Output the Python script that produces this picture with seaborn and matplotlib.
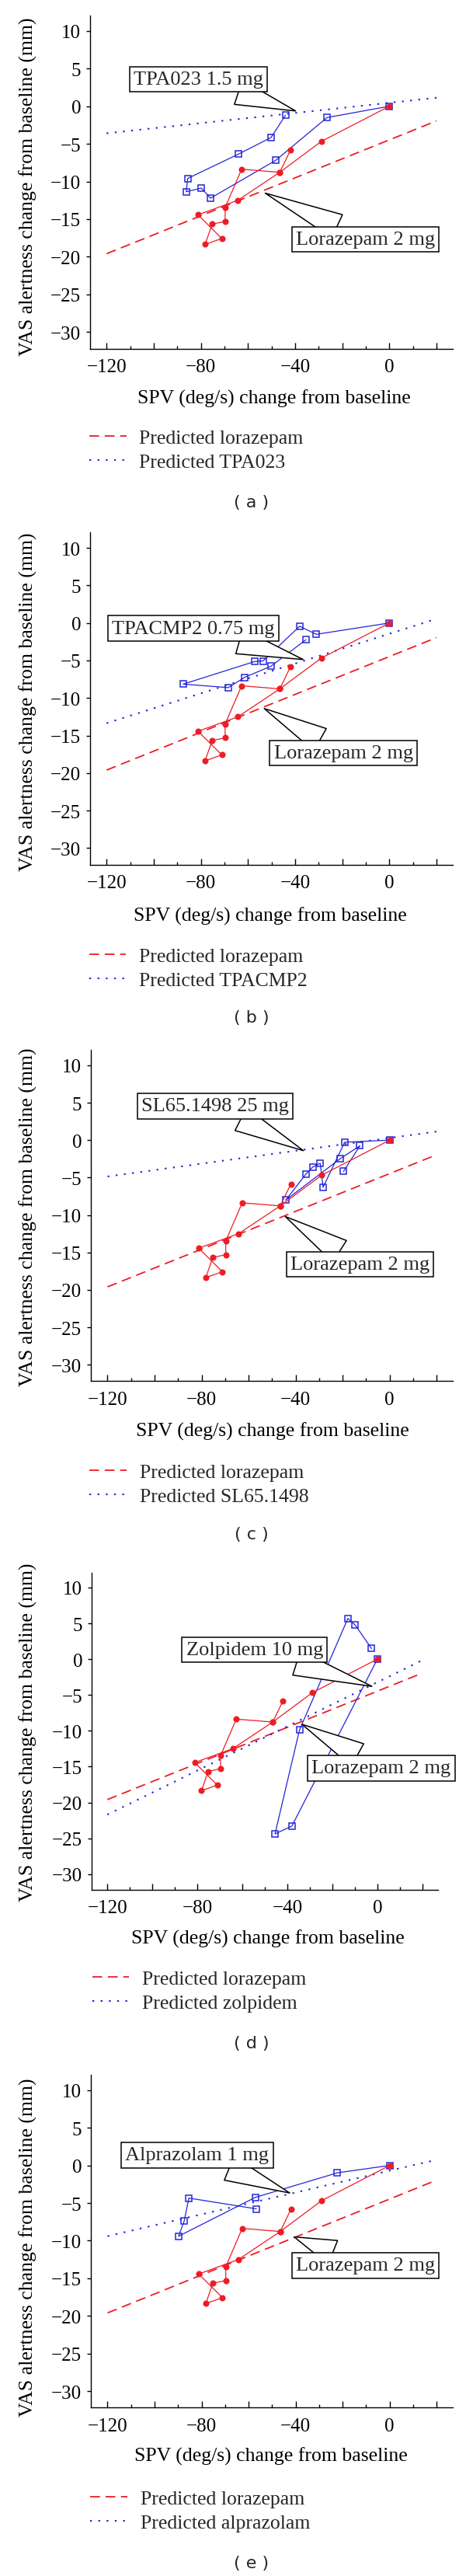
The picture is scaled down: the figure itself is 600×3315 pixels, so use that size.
import matplotlib
matplotlib.use("Agg")
import matplotlib.pyplot as plt
from matplotlib.ticker import MultipleLocator, FuncFormatter
import seaborn as sns
import pandas as pd

# observed lorazepam 2 mg trajectory (same in every panel), in drawing order
loraz_x = [0, -28.9, -46.5, -64.3, -81.2, -71.1, -78.2, -75.2, -69.7, -69.7, -62.7, -46.5, -42.0]
loraz_y = [0, -4.68, -8.78, -12.5, -14.43, -17.58, -18.36, -15.67, -15.3, -13.46, -8.37, -8.78, -5.85]

# observed comparison compounds
tpa023_x = [0, -26.5, -48.2, -75.9, -79.8, -86.2, -85.6, -64.0, -50.2, -44.1]
tpa023_y = [0, -1.51, -7.19, -12.22, -10.88, -11.36, -9.6, -6.36, -4.16, -1.2]

tpacmp2_x = [0, -31.0, -38.1, -53.6, -57.1, -87.5, -68.4, -61.3, -50.2, -35.4]
tpacmp2_y = [0, -1.51, -0.44, -5.06, -5.13, -8.15, -8.61, -7.23, -5.75, -2.23]

sl65_x = [0, -19.1, -28.3, -29.5, -32.7, -35.5, -44.2, -20.9, -12.6, -19.6]
sl65_y = [0, -0.27, -6.29, -3.10, -3.59, -4.49, -8.01, -2.45, -0.75, -4.17]

zolp_x = [0, -38.0, -45.5, -34.6, -13.1, -9.8, -2.6]
zolp_y = [0, -23.3, -24.4, -9.87, 5.68, 4.74, 1.48]

alpra_x = [0, -22.2, -57.1, -89.8, -87.4, -85.4, -56.7]
alpra_y = [0, -0.98, -4.24, -9.41, -7.4, -4.34, -5.77]

# predicted lines (end points)
pred_x = [-120, 20]
pred_loraz = [-19.6, -1.95]
pred_tpa023 = [-3.6, 1.13]
pred_tpacmp2 = [-13.35, 0.55]
pred_sl65 = [-4.85, 1.15]
pred_zolp = [-21.7, -0.15]
pred_alpra = [-9.4, 0.75]

panels = [
    ("a", "TPA023 1.5 mg", "TPA023", tpa023_x, tpa023_y, pred_tpa023),
    ("b", "TPACMP2 0.75 mg", "TPACMP2", tpacmp2_x, tpacmp2_y, pred_tpacmp2),
    ("c", "SL65.1498 25 mg", "SL65.1498", sl65_x, sl65_y, pred_sl65),
    ("d", "Zolpidem 10 mg", "zolpidem", zolp_x, zolp_y, pred_zolp),
    ("e", "Alprazolam 1 mg", "alprazolam", alpra_x, alpra_y, pred_alpra),
]

# layout in pixels (local to each 663 px panel)
offsets = [0, 663, 1326, 1989, 2652]
ax_box = [(116, 21, 582.7, 449.5), (116, 23.3, 582.7, 450.7), (117.3, 26.2, 582.7, 452.4),
          (118, 36, 563.5, 444), (117.3, 19, 582.7, 447.4)]
xlab_pos = [(352.9, 513.7), (348, 515.9), (351, 515.9), (344.6, 506), (348.5, 509.5)]
leg_pos = [(115, 565.8), (114.6, 570), (115.4, 570.8), (118.5, 560), (116.5, 565.8)]
cap_pos = [(324, 647), (324, 647), (324, 649), (324, 640.6), (324, 647)]
# (text centre, arrow tip) in data units
comp_note = [((-81.0, 3.6), (-39.8, -0.63)), ((-83.2, -0.71), (-36.6, -4.87)),
             ((-74.3, 4.57), (-36.7, -1.4)), ((-54.6, 1.3), (-2.4, -3.8)),
             ((-81.9, 1.36), (-42.5, -3.66))]
loraz_note = [((-10.2, -17.7), (-52.7, -11.55)), ((-19.5, -17.3), (-53.1, -11.4)),
              ((-12.6, -16.6), (-44.4, -10.2)), ((1.7, -15.2), (-33.5, -9.1)),
              ((-10.3, -13.3), (-40.6, -9.5))]

RED = "#ee1c24"
BLUE = "#2424d8"
W, H = 600, 3316

sns.set_theme(style="ticks")
plt.rcParams["font.family"] = ["Liberation Serif", "DejaVu Serif"]
plt.rcParams["axes.unicode_minus"] = True

fig = plt.figure(figsize=(6, 33.16), dpi=100)


def num(v, pos=None):
    v = int(round(v))
    return "\u2212" + str(abs(v)) if v < 0 else str(v)


for i, (letter, note, pred_name, cx, cy, pred_c) in enumerate(panels):
    off = offsets[i]
    l, t, r, b = ax_box[i]
    ax = fig.add_axes([l / W, 1 - (off + b) / H, (r - l) / W, (b - t) / H])

    obs = pd.DataFrame({"x": loraz_x, "y": loraz_y})
    comp = pd.DataFrame({"x": cx, "y": cy})

    sns.lineplot(x=pred_x, y=pred_loraz, ax=ax, color=RED, lw=1.3,
                 linestyle=(0, (7, 4)), label="Predicted lorazepam", legend=False)
    sns.lineplot(x=pred_x, y=pred_c, ax=ax, color=BLUE, lw=1.5,
                 linestyle=(0, (1.1, 4.0)), label="Predicted " + pred_name, legend=False)
    sns.lineplot(data=comp, x="x", y="y", ax=ax, sort=False, estimator=None,
                 color=BLUE, lw=0.9, marker="s", markersize=5.6, mfc="none",
                 markeredgecolor=BLUE, markeredgewidth=1.1, legend=False)
    sns.lineplot(data=obs, x="x", y="y", ax=ax, sort=False, estimator=None,
                 color=RED, lw=0.9, marker="o", markersize=5.8,
                 markeredgecolor=RED, markeredgewidth=0, legend=False)

    ax.set_xlim(-127, 26.8)
    ax.set_ylim(-32.2, 12.05)
    ax.xaxis.set_major_locator(MultipleLocator(20))
    ax.xaxis.set_minor_locator(MultipleLocator(10))
    ax.xaxis.set_major_formatter(FuncFormatter(lambda v, p: num(v) if int(round(v)) % 40 == 0 else ""))
    ax.yaxis.set_major_locator(MultipleLocator(5))
    ax.yaxis.set_major_formatter(FuncFormatter(num))
    ax.tick_params(axis="x", which="major", direction="in", length=5.5, width=1,
                   pad=9, labelsize=18, colors="black")
    ax.tick_params(axis="x", which="minor", direction="in", length=3, width=1, colors="black")
    ax.tick_params(axis="y", direction="out", length=3.6, width=1, pad=5,
                   labelsize=18, colors="black")
    sns.despine(ax=ax)
    for s in ["left", "bottom"]:
        ax.spines[s].set_linewidth(1.0)
        ax.spines[s].set_color("black")

    ax.set_xlabel("SPV (deg/s) change from baseline", fontsize=18.5, color="black")
    ax.set_ylabel("VAS alertness change from baseline (mm)", fontsize=18.5, color="black")
    xl, yl = xlab_pos[i]
    ax.xaxis.set_label_coords((xl - l) / (r - l), (b - yl) / (b - t))
    ax.xaxis.label.set_va("center")
    ax.yaxis.set_label_coords((36.5 - l) / (r - l), (b - 240) / (b - t))
    ax.yaxis.label.set_va("center")

    for (txt, (pos, tip)) in [(note, comp_note[i]), ("Lorazepam 2 mg", loraz_note[i])]:
        ax.annotate(txt, xy=tip, xytext=pos, ha="center", va="center", fontsize=19,
                    annotation_clip=False,
                    bbox=dict(boxstyle="square,pad=0.2", fc="white", ec="black", lw=1.1),
                    arrowprops=dict(arrowstyle="wedge,tail_width=1.25,shrink_factor=0.5",
                                    fc="white", ec="black", lw=1.1,
                                    shrinkA=0, shrinkB=0))

    handles, labels = ax.get_legend_handles_labels()
    lx, ly = leg_pos[i]
    ax.legend(handles[:2], labels[:2], loc="upper left",
              bbox_to_anchor=(lx / W, 1 - (off + ly - 13) / H),
              bbox_transform=fig.transFigure, frameon=False, borderpad=0,
              borderaxespad=0, handlelength=1.85, handletextpad=0.65,
              labelspacing=0.32, fontsize=18.5)

    px, py = cap_pos[i]
    fig.text(px / W, 1 - (off + py) / H, "( %s )" % letter, ha="center", va="center",
             fontsize=16, family="DejaVu Sans")

fig.savefig("out.png", dpi=100, facecolor="white")
